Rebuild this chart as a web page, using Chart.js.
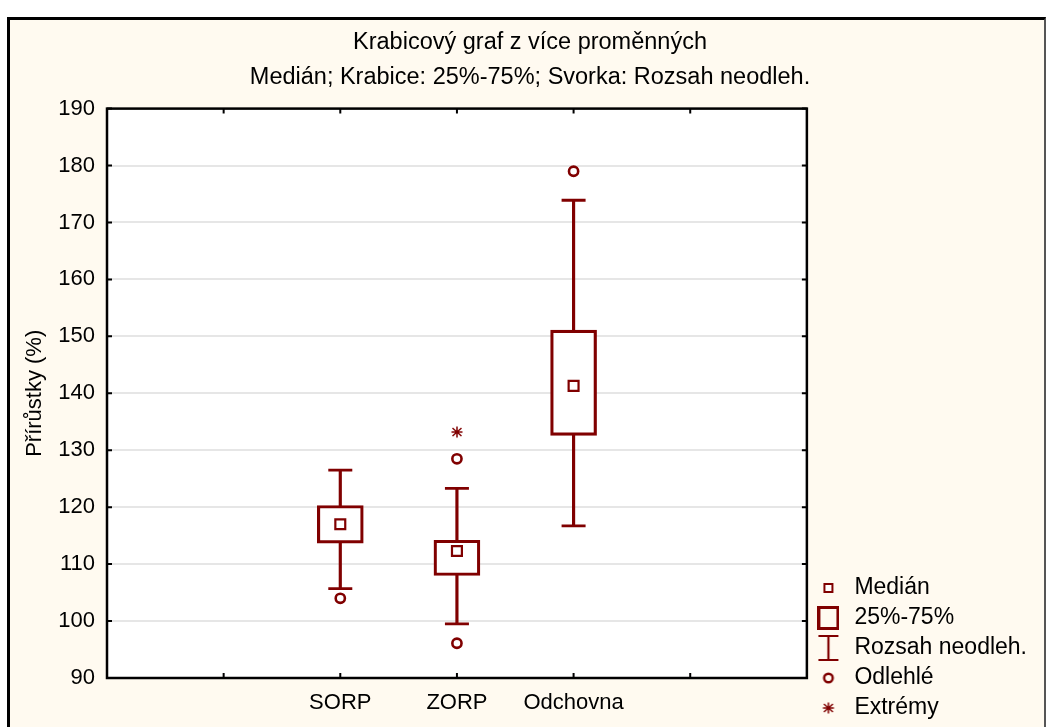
<!DOCTYPE html>
<html>
<head>
<meta charset="utf-8">
<script src="https://cdn.jsdelivr.net/npm/chart.js@4.4.1/dist/chart.umd.min.js"></script>
<style>
  html, body { margin: 0; padding: 0; background: #fff; width: 1047px; height: 727px; overflow: hidden; }
  #frame {
    position: absolute; left: 7px; top: 17px; width: 1039px; height: 720px;
    box-sizing: border-box; background: #fffaf0;
    border-left: 3px solid #000; border-top: 3px solid #000; border-right: 2px solid #555;
  }
  #chart { position: absolute; left: 0; top: 0; }
</style>
</head>
<body>
<div id="frame"></div>
<canvas id="chart" width="1047" height="727"></canvas>
<script>
// Box-plot statistics per group
const categories  = ['SORP', 'ZORP', 'Odchovna'];
const whiskerLow  = [105.7, 99.5, 116.7];
const boxLow      = [113.7, 108.0, 132.6];
const medians     = [117.0, 112.3, 141.3];
const boxHigh     = [120.3, 114.2, 151.1];
const whiskerHigh = [126.5, 123.3, 173.9];
const outliers    = [[104.0], [128.5, 96.1], [179.0]];
const extremes    = [[], [133.2], []];

// Axis settings
const yRange = [90, 190];
const yStep = 10;
const axisLabels = ['', '', ...categories, '', ''];

const legendLabels = ['Medián', '25%-75%', 'Rozsah neodleh.', 'Odlehlé', 'Extrémy'];

const MAROON = '#800000';
const FONT = "'Liberation Sans', Arial, sans-serif";

// place per-group values into the axis slots
const slot = vals => axisLabels.map(l => {
  const i = categories.indexOf(l);
  return i < 0 ? null : vals[i];
});
const pairs = (a, b) => a.map((v, i) => [v, b[i]]);
const points = groups => groups.flatMap((arr, i) => arr.map(v => ({ x: categories[i], y: v })));

// small glyphs for the legend and the extreme-value marker
function glyph(w, h, draw) {
  const c = document.createElement('canvas');
  c.width = w; c.height = h;
  const g = c.getContext('2d');
  g.strokeStyle = MAROON; g.fillStyle = '#fff';
  draw(g, w, h);
  return c;
}
const gMedian = glyph(12, 12, g => { g.lineWidth = 2; g.fillRect(1, 1, 10, 10); g.strokeRect(2, 2, 8, 8); });
const gBox = glyph(22, 24, g => { g.lineWidth = 3; g.strokeRect(1.5, 1.5, 19, 21); });
const gRange = glyph(22, 28, g => {
  g.lineWidth = 2.2; g.beginPath();
  g.moveTo(11, 2); g.lineTo(11, 26);
  g.moveTo(1, 2); g.lineTo(21, 2);
  g.moveTo(1, 26); g.lineTo(21, 26);
  g.stroke();
});
const gOutlier = glyph(14, 14, g => { g.lineWidth = 2.4; g.beginPath(); g.arc(7, 7, 4.3, 0, Math.PI * 2); g.stroke(); });
const gExtreme = glyph(14, 14, g => {
  g.lineWidth = 1.5; g.beginPath();
  g.moveTo(7, 1.5); g.lineTo(7, 12.5);
  g.moveTo(2.5, 3); g.lineTo(11.5, 11);
  g.moveTo(11.5, 3); g.lineTo(2.5, 11);
  g.moveTo(1.5, 7); g.lineTo(12.5, 7);
  g.stroke();
});
const legendGlyphs = [gMedian, gBox, gRange, gOutlier, gExtreme];

// white plot area, black frame and inward tick marks
const plotFrame = {
  id: 'plotFrame',
  beforeDraw(chart) {
    const { ctx, chartArea: a } = chart;
    ctx.save();
    ctx.fillStyle = '#fff';
    ctx.fillRect(a.left, a.top, a.width, a.height);
    ctx.restore();
  },
  afterDraw(chart) {
    const { ctx, chartArea: a, scales: { x, y } } = chart;
    ctx.save();
    ctx.strokeStyle = '#000';
    ctx.lineWidth = 2.5;
    ctx.strokeRect(a.left, a.top, a.width, a.height);
    ctx.lineWidth = 2;
    ctx.beginPath();
    x.ticks.forEach((t, i) => {
      if (i === 0 || i === x.ticks.length - 1) return;
      const px = x.getPixelForTick(i);
      ctx.moveTo(px, a.top); ctx.lineTo(px, a.top + 5);
      ctx.moveTo(px, a.bottom); ctx.lineTo(px, a.bottom - 5);
    });
    y.ticks.forEach((t, i) => {
      const py = y.getPixelForTick(i);
      ctx.moveTo(a.left, py); ctx.lineTo(a.left + 5, py);
      ctx.moveTo(a.right, py); ctx.lineTo(a.right - 5, py);
    });
    ctx.stroke();
    ctx.restore();
  }
};

new Chart(document.getElementById('chart'), {
  data: {
    labels: axisLabels,
    datasets: [
      {
        type: 'line', label: 'Medián', data: slot(medians), showLine: false, order: 0,
        pointStyle: 'rect', pointRadius: 7, pointBorderWidth: 2.2,
        pointBorderColor: MAROON, pointBackgroundColor: '#fff'
      },
      {
        type: 'line', label: 'Odlehlé', data: points(outliers), showLine: false, order: 0,
        pointStyle: 'circle', pointRadius: 4.6, pointBorderWidth: 2.6,
        pointBorderColor: MAROON, pointBackgroundColor: '#fff'
      },
      {
        type: 'line', label: 'Extrémy', data: points(extremes), showLine: false, order: 0,
        pointStyle: gExtreme, pointRadius: 7
      },
      {
        type: 'line', label: 'horní svorka', data: slot(whiskerHigh), showLine: false, order: 0,
        pointStyle: 'line', pointRadius: 12, pointBorderWidth: 2.8, pointBorderColor: MAROON
      },
      {
        type: 'line', label: 'dolní svorka', data: slot(whiskerLow), showLine: false, order: 0,
        pointStyle: 'line', pointRadius: 12, pointBorderWidth: 2.8, pointBorderColor: MAROON
      },
      {
        type: 'bar', label: '25%-75%', data: slot(pairs(boxLow, boxHigh)), order: 1,
        grouped: false, barThickness: 46, borderWidth: 3.2, borderSkipped: false,
        borderColor: MAROON, backgroundColor: '#fff'
      },
      {
        type: 'bar', label: 'Rozsah neodleh.', data: slot(pairs(whiskerLow, whiskerHigh)), order: 2,
        grouped: false, barThickness: 2.5, borderWidth: 0, backgroundColor: MAROON
      }
    ]
  },
  options: {
    responsive: false,
    devicePixelRatio: 1,
    animation: false,
    events: [],
    layout: { padding: { top: 20, left: 23, right: 10, bottom: 0.5 } },
    scales: {
      x: {
        type: 'category', offset: false,
        grid: { display: false }, border: { display: false },
        ticks: { autoSkip: false, maxRotation: 0, padding: 4, color: '#000', font: { family: FONT, size: 22 } },
        afterFit(s) { s.height = 48.5; }
      },
      y: {
        min: yRange[0], max: yRange[1],
        grid: { color: '#e6e6e6', lineWidth: 2, drawTicks: false },
        border: { display: false },
        ticks: { stepSize: yStep, padding: 12, color: '#000', font: { family: FONT, size: 22 } },
        title: {
          display: true, text: 'Přírůstky (%)', color: '#000',
          font: { family: FONT, size: 22, lineHeight: 1 }, padding: { top: 1, bottom: 0 }
        },
        afterFit(s) { s.width = 84; }
      }
    },
    plugins: {
      tooltip: { enabled: false },
      title: {
        display: true, text: 'Krabicový graf z více proměnných', color: '#000',
        font: { family: FONT, size: 23.5, weight: 'normal' }, padding: { top: 8.7, bottom: 0 }
      },
      subtitle: {
        display: true, text: 'Medián; Krabice: 25%-75%; Svorka: Rozsah neodleh.', color: '#000',
        font: { family: FONT, size: 23.5, weight: 'normal' }, padding: { top: 6.5, bottom: 17 }
      },
      legend: {
        position: 'right', align: 'end',
        labels: {
          usePointStyle: true, pointStyleWidth: 29, padding: 7,
          color: '#000', font: { family: FONT, size: 23 },
          generateLabels: () => legendLabels.map((text, i) => ({
            text, pointStyle: legendGlyphs[i], fontColor: '#000',
            hidden: false, lineWidth: 0, datasetIndex: i
          }))
        }
      }
    }
  },
  plugins: [plotFrame]
});
</script>
</body>
</html>
